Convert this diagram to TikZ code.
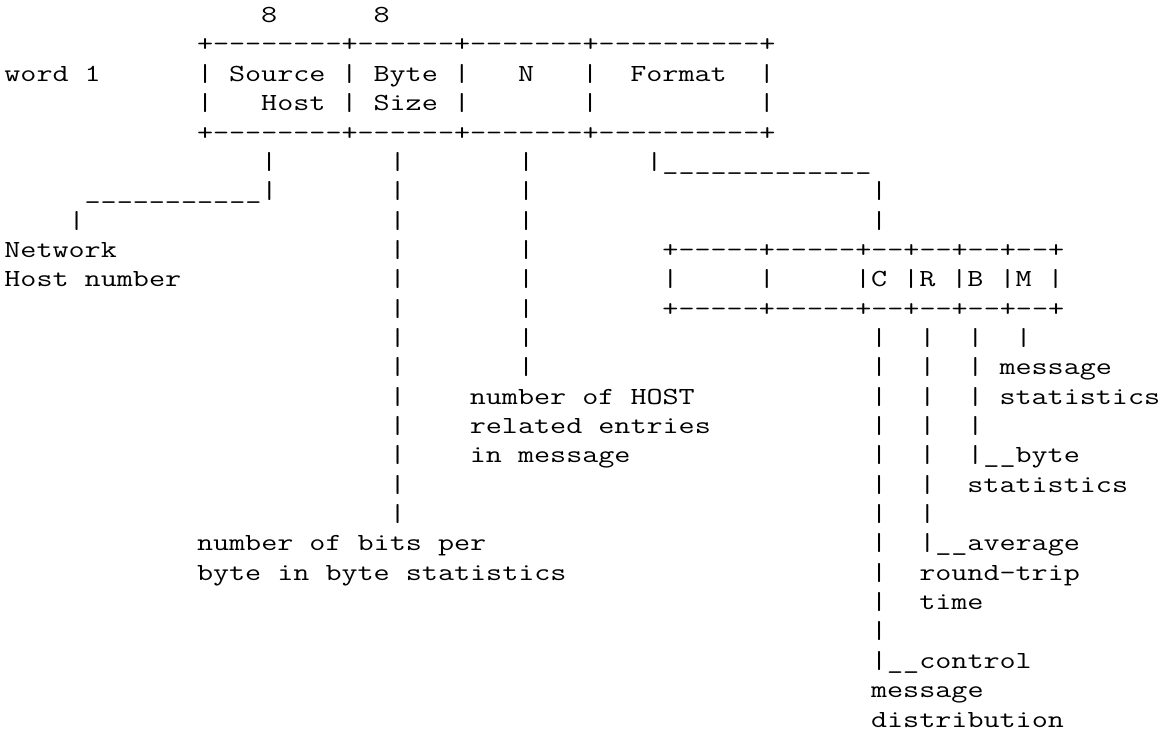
\documentclass[tikz,border=0pt]{standalone}
\usepackage{fontspec}
\newcommand\dsh[1]{\foreach\i in {1,...,#1}{-\kern0pt}}
\newcommand\usc[1]{\foreach\i in {1,...,#1}{\_\kern0pt}}
\tikzset{asc/.style={anchor=base west,inner sep=0pt,outer sep=0pt,
  xscale=1.2717,transform shape,
  font=\ttfamily\fontsize{18.4pt}{18.4pt}\selectfont}}
\newcommand\tx[3]{\node[asc] (n#1c#2) at ({4.4+#2*16.05},{22.6+(#1-1)*29.35}) {#3};}
\begin{document}
\begin{tikzpicture}[x=0.75pt,y=-0.75pt]
\useasboundingbox (0,0) rectangle (1164,735);
% top box
\tx{1}{16}{8}\tx{1}{23}{8}
\tx{2}{12}{+\dsh{8}+\dsh{6}+\dsh{7}+\dsh{10}+}
\tx{3}{0}{word 1}\tx{3}{12}{|}\tx{3}{14}{Source}\tx{3}{21}{|}\tx{3}{23}{Byte}\tx{3}{28}{|}\tx{3}{32}{N}\tx{3}{36}{|}\tx{3}{39}{Format}\tx{3}{47}{|}
\tx{4}{12}{|}\tx{4}{16}{Host}\tx{4}{21}{|}\tx{4}{23}{Size}\tx{4}{28}{|}\tx{4}{36}{|}\tx{4}{47}{|}
\tx{5}{12}{+\dsh{8}+\dsh{6}+\dsh{7}+\dsh{10}+}
% leaders
\tx{6}{16}{|}\tx{6}{24}{|}\tx{6}{32}{|}\tx{6}{40}{|\usc{13}}
\tx{7}{5}{\usc{11}|}\tx{7}{24}{|}\tx{7}{32}{|}\tx{7}{54}{|}
\tx{8}{4}{|}\tx{8}{24}{|}\tx{8}{32}{|}\tx{8}{54}{|}
\tx{9}{0}{Network}\tx{9}{24}{|}\tx{9}{32}{|}\tx{9}{41}{+\dsh{5}+\dsh{5}+\dsh{2}+\dsh{2}+\dsh{2}+\dsh{2}+}
\tx{10}{0}{Host number}\tx{10}{24}{|}\tx{10}{32}{|}\tx{10}{41}{|}\tx{10}{47}{|}\tx{10}{53}{|C}\tx{10}{56}{|R}\tx{10}{59}{|B}\tx{10}{62}{|M}\tx{10}{65}{|}
\tx{11}{24}{|}\tx{11}{32}{|}\tx{11}{41}{+\dsh{5}+\dsh{5}+\dsh{2}+\dsh{2}+\dsh{2}+\dsh{2}+}
\tx{12}{24}{|}\tx{12}{32}{|}\tx{12}{54}{|}\tx{12}{57}{|}\tx{12}{60}{|}\tx{12}{63}{|}
\tx{13}{24}{|}\tx{13}{32}{|}\tx{13}{54}{|}\tx{13}{57}{|}\tx{13}{60}{|}\tx{13}{62}{message}
\tx{14}{24}{|}\tx{14}{29}{number of HOST}\tx{14}{54}{|}\tx{14}{57}{|}\tx{14}{60}{|}\tx{14}{62}{statistics}
\tx{15}{24}{|}\tx{15}{29}{related entries}\tx{15}{54}{|}\tx{15}{57}{|}\tx{15}{60}{|}
\tx{16}{24}{|}\tx{16}{29}{in message}\tx{16}{54}{|}\tx{16}{57}{|}\tx{16}{60}{|\usc{2}byte}
\tx{17}{24}{|}\tx{17}{54}{|}\tx{17}{57}{|}\tx{17}{60}{statistics}
\tx{18}{24}{|}\tx{18}{54}{|}\tx{18}{57}{|}
\tx{19}{12}{number of bits per}\tx{19}{54}{|}\tx{19}{57}{|\usc{2}average}
\tx{20}{12}{byte in byte statistics}\tx{20}{54}{|}\tx{20}{57}{round-trip}
\tx{21}{54}{|}\tx{21}{57}{time}
\tx{22}{54}{|}
\tx{23}{54}{|\usc{2}control}
\tx{24}{54}{message}
\tx{25}{54}{distribution}
\end{tikzpicture}
\end{document}
